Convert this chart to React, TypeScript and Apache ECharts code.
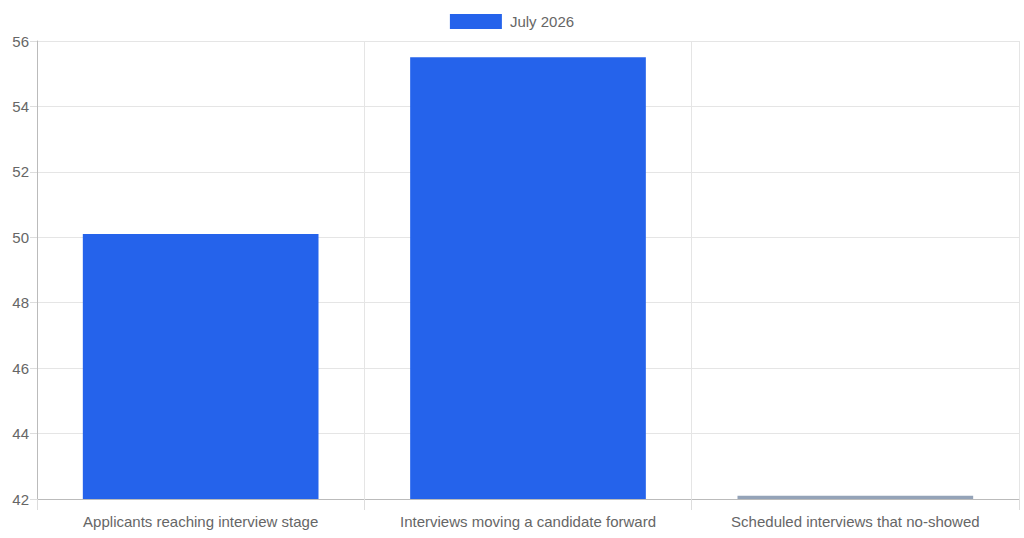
import { useEffect, useRef } from "react";
import * as echarts from "echarts";

const categories = [
  "Applicants reaching interview stage",
  "Interviews moving a candidate forward",
  "Scheduled interviews that no-showed",
];
const values = [50.1, 55.5, 42.1];
const barColors = ["#2563eb", "#2563eb", "#94a3b8"];
const seriesName = "July 2026";

export default function App() {
  const chartRef = useRef(null);

  useEffect(() => {
    document.body.style.margin = "0";
    const chart = echarts.init(chartRef.current, null, { renderer: "svg" });

    const options = {
      animation: false,
      textStyle: { fontFamily: "Liberation Sans, Arial, sans-serif" },
      legend: {
        top: 9,
        left: "center",
        itemWidth: 52,
        itemHeight: 15,
        icon: "rect",
        textStyle: { color: "#666", fontSize: 15, padding: [0, 0, 0, 3] },
        data: [{ name: seriesName, itemStyle: { color: "#2563eb" } }],
      },
      grid: { left: 37, right: 5, top: 41, bottom: 39 },
      xAxis: {
        type: "category",
        data: categories,
        axisLine: { lineStyle: { color: "#bbb" } },
        axisTick: { show: true, interval: 0, length: 11, lineStyle: { color: "#ddd" } },
        axisLabel: { color: "#666", fontSize: 15, margin: 15, interval: 0 },
        splitLine: { show: true, interval: 0, lineStyle: { color: "#e5e5e5" } },
      },
      yAxis: {
        type: "value",
        min: 42,
        max: 56,
        interval: 2,
        axisLine: { show: true, lineStyle: { color: "#bbb" } },
        axisTick: { show: true, length: 7, lineStyle: { color: "#ddd" } },
        axisLabel: { color: "#666", fontSize: 15, margin: 8 },
        splitLine: { lineStyle: { color: "#e5e5e5" } },
      },
      series: [
        {
          name: seriesName,
          type: "bar",
          barWidth: "72%",
          data: values.map((v, i) => ({
            value: v,
            itemStyle: { color: barColors[i] },
          })),
        },
      ],
    };

    chart.setOption(options);

    return () => {
      chart.dispose();
    };
  }, []);

  return <div ref={chartRef} style={{ width: "1024px", height: "538px" }} />;
}
